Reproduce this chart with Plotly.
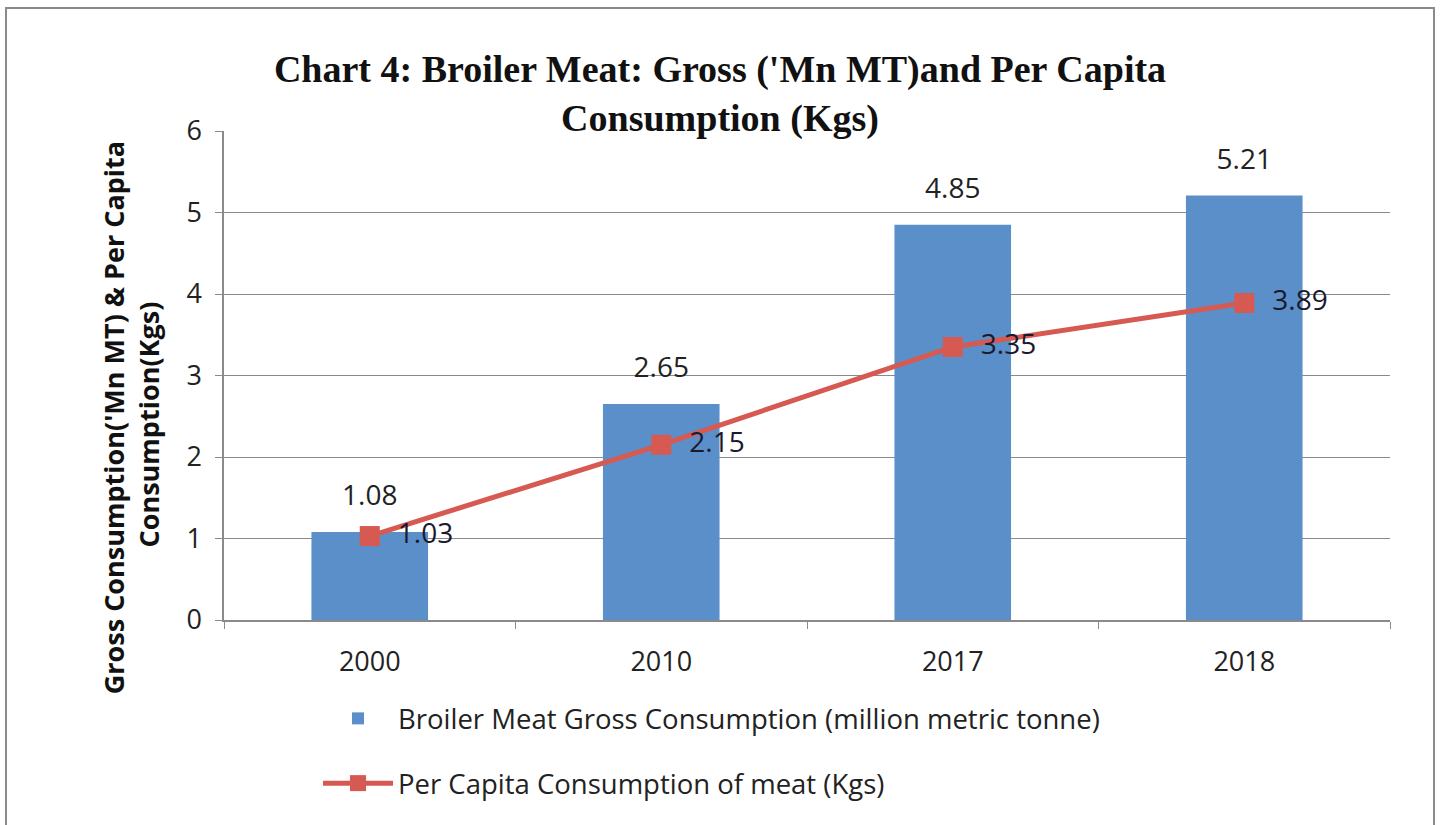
import plotly.graph_objects as go

years = ["2000", "2010", "2017", "2018"]
gross = [1.08, 2.65, 4.85, 5.21]
per_capita = [1.03, 2.15, 3.35, 3.89]
y_ticks = [0, 1, 2, 3, 4, 5, 6]

bar_name = "Broiler Meat Gross Consumption (million metric tonne)"
line_name = "Per Capita Consumption of meat (Kgs)"
title_text = "<b>Chart 4: Broiler Meat: Gross ('Mn MT)and Per Capita<br>Consumption (Kgs)</b>"
NB = "\u00a0"
ytitle = ("<b>Gross Consumption('Mn MT) & Per Capita" + NB * 12 + "<br>"
          + "Consumption(Kgs)" + NB * 14 + "</b>")

FONT = "'Open Sans', Lato, sans-serif"

fig = go.Figure()
fig.add_trace(go.Bar(
    x=years, y=gross, name=bar_name,
    marker=dict(color="#5B8FC9", line=dict(width=0)),
    width=0.4, legendgroup="a",
))
# value labels for the bars, lifted above bar tops
fig.add_trace(go.Scatter(
    x=years, y=gross, mode="text+markers", showlegend=False, hoverinfo="skip",
    marker=dict(size=30, opacity=0),
    text=[f"{v:.2f}" for v in gross], textposition="top center",
    textfont=dict(size=28, color="#222222", family=FONT),
    cliponaxis=False,
))
fig.add_trace(go.Scatter(
    x=years, y=per_capita, name=line_name, mode="lines+markers+text",
    line=dict(color="#D65A52", width=5),
    marker=dict(symbol="square", size=20, color="#D65A52"),
    text=[f"  {v:.2f}" for v in per_capita], textposition="middle right",
    textfont=dict(size=28, color="#1a1a2e", family=FONT),
    cliponaxis=False, legendgroup="b",
))

L, R, T, B = 224, 50, 131, 205
W, H = 1440, 825
pw = W - L - R
ph = H - T - B

def px(x):
    return (x - L) / pw

def py(y):
    return (H - B - y) / ph

fig.add_shape(type="rect", xref="paper", yref="paper",
              x0=px(6), x1=px(1434), y0=py(830), y1=py(8),
              line=dict(color="#8a8a8a", width=2), fillcolor="rgba(0,0,0,0)",
              layer="below")

fig.update_layout(
    width=W, height=H,
    margin=dict(l=L, r=R, t=T, b=B),
    paper_bgcolor="white", plot_bgcolor="white",
    title=dict(text=title_text, x=0.5, xanchor="center", y=1 - 82 / H, yanchor="top",
               font=dict(family="'Liberation Serif', 'Times New Roman', serif",
                         size=38, color="#111111")),
    font=dict(family=FONT, size=26, color="#222222"),
    showlegend=True,
    legend=dict(orientation="v", x=px(318), xanchor="left", y=py(694), yanchor="top",
                font=dict(size=27.5, color="#222222", family=FONT),
                tracegroupgap=26, itemwidth=70, bgcolor="rgba(0,0,0,0)"),
    xaxis=dict(type="category", showline=True, linecolor="#8a8a8a", linewidth=1.5,
               ticks="outside", tickson="boundaries", ticklen=7, tickcolor="#8a8a8a",
               tickfont=dict(size=27, color="#222222"), showgrid=False,
               ticklabelstandoff=17),
    yaxis=dict(range=[0, 6], tickvals=y_ticks, showline=True, linecolor="#8a8a8a",
               linewidth=1.5, ticks="outside", ticklen=7, tickcolor="#8a8a8a",
               gridcolor="#8a8a8a", gridwidth=1.2, zeroline=False,
               tickfont=dict(size=27, color="#222222"), ticklabelstandoff=8,
               title=dict(text=ytitle, standoff=19,
                          font=dict(size=27, color="#111111",
                                    family="'Open Sans', sans-serif"))),
)

fig.write_html("out.html")
